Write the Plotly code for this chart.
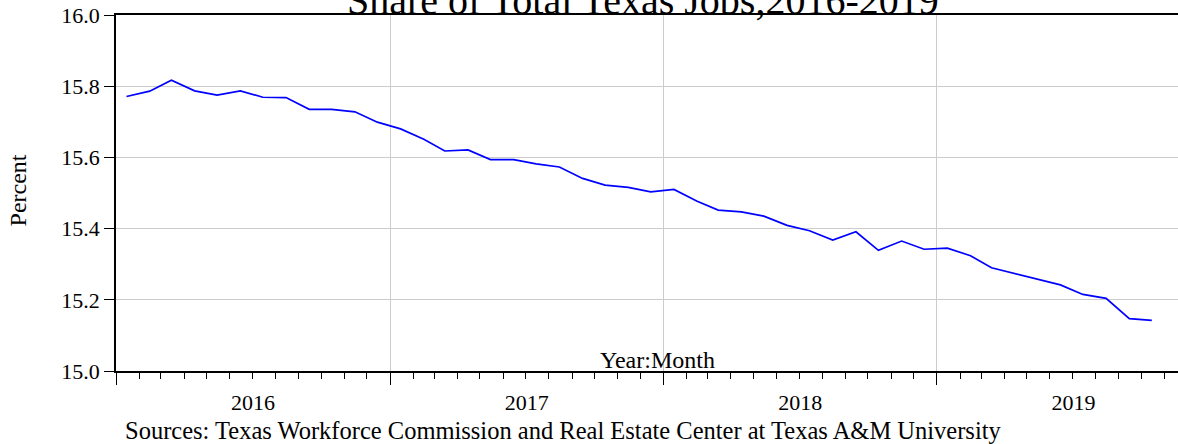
"""
Share of Total Texas Jobs, 2016-2019 — monthly line chart.
"""
import pandas as pd
import plotly.graph_objects as go

# Months plotted (each point sits mid-month)
MONTHS = [
    "2016-01", "2016-02", "2016-03", "2016-04", "2016-05", "2016-06",
    "2016-07", "2016-08", "2016-09", "2016-10", "2016-11", "2016-12",
    "2017-01", "2017-02", "2017-03", "2017-04", "2017-05", "2017-06",
    "2017-07", "2017-08", "2017-09", "2017-10", "2017-11", "2017-12",
    "2018-01", "2018-02", "2018-03", "2018-04", "2018-05", "2018-06",
    "2018-07", "2018-08", "2018-09", "2018-10", "2018-11", "2018-12",
    "2019-01", "2019-02", "2019-03", "2019-04", "2019-05", "2019-06",
    "2019-07", "2019-08", "2019-09", "2019-10",
]

# Share of total Texas jobs (percent)
SHARE = [
    15.771, 15.786, 15.817, 15.787, 15.775, 15.787,
    15.769, 15.768, 15.735, 15.735, 15.728, 15.699,
    15.680, 15.651, 15.618, 15.621, 15.594, 15.594,
    15.582, 15.573, 15.541, 15.522, 15.516, 15.503,
    15.510, 15.477, 15.452, 15.447, 15.435, 15.409,
    15.394, 15.368, 15.391, 15.339, 15.365, 15.342,
    15.345, 15.324, 15.290, 15.274, 15.258, 15.242,
    15.215, 15.204, 15.147, 15.142,
]

Y_TICKS = [15.0, 15.2, 15.4, 15.6, 15.8, 16.0]
X_RANGE = ["2016-01-01", "2019-11-19"]

TITLE = "Share of Total Texas Jobs,2016-2019"
SOURCE = "Sources: Texas Workforce Commission and Real Estate Center at Texas A&M University"

SERIF = "Liberation Serif, Times New Roman, serif"

x_mid = pd.to_datetime(MONTHS) + pd.Timedelta(days=14)

fig = go.Figure(
    go.Scatter(
        x=x_mid,
        y=SHARE,
        mode="lines",
        line=dict(color="#0000ff", width=1.7),
        showlegend=False,
        hoverinfo="x+y",
    )
)

fig.update_layout(
    width=1178,
    height=444,
    margin=dict(l=116, r=0, t=15, b=73, autoexpand=False),
    paper_bgcolor="white",
    plot_bgcolor="white",
    font=dict(family=SERIF, color="black", size=22),
    xaxis=dict(
        range=X_RANGE,
        ticklabelmode="period",
        dtick="M12",
        tick0="2016-01-01",
        tickformat="%Y",
        ticks="outside",
        ticklen=12,
        tickwidth=1.2,
        tickcolor="black",
        minor=dict(dtick="M1", tick0="2016-01-01", ticks="outside", ticklen=6,
                   tickwidth=1, tickcolor="black", showgrid=False),
        showgrid=True,
        gridcolor="#cccccc",
        gridwidth=1.4,
        showline=True,
        linecolor="black",
        linewidth=1.5,
        mirror=True,
        zeroline=False,
        automargin=False,
        tickfont=dict(size=22),
        ticklabelstandoff=-1,
    ),
    yaxis=dict(
        range=[15.0, 16.0],
        tickvals=Y_TICKS,
        tickformat=".1f",
        ticks="outside",
        ticklen=10,
        tickwidth=1.2,
        tickcolor="black",
        showgrid=True,
        gridcolor="#cccccc",
        gridwidth=1.4,
        showline=True,
        linecolor="black",
        linewidth=1.5,
        zeroline=False,
        automargin=False,
        tickfont=dict(size=22),
    ),
)

# title, partly cut by the top edge like in the source
fig.add_annotation(
    text=TITLE, xref="paper", yref="paper", x=0.496, y=1.042,
    xanchor="center", yanchor="middle", showarrow=False,
    font=dict(size=40, family=SERIF),
)
fig.add_annotation(
    text="Percent", xref="paper", yref="paper", x=-0.092, y=0.508,
    xanchor="center", yanchor="middle", textangle=-90, showarrow=False,
    font=dict(size=24, family=SERIF),
)
fig.add_annotation(
    text="Year:Month", xref="paper", yref="paper", x=0.510, y=0.031,
    xanchor="center", yanchor="middle", showarrow=False,
    font=dict(size=24, family=SERIF),
)
fig.add_annotation(
    text=SOURCE, xref="paper", yref="paper", x=0.0066, y=-0.166,
    xanchor="left", yanchor="middle", showarrow=False,
    font=dict(size=24.5, family=SERIF),
)

# drop the default page margin so the figure sits at the window corner
fig.write_html(
    "out.html",
    config={"displayModeBar": False},
    post_script="document.body.style.margin='0';",
)
